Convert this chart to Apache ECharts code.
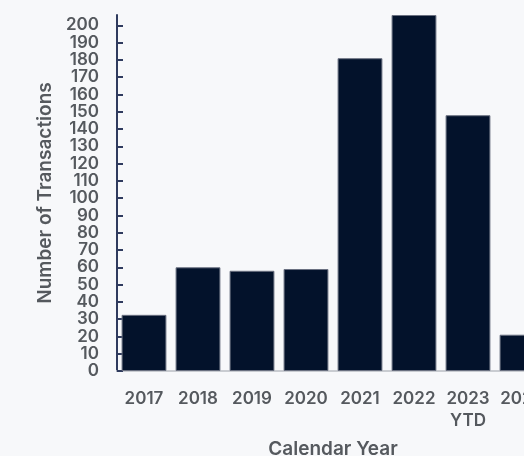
<!DOCTYPE html>
<html>
<head>
<meta charset="utf-8">
<script src="https://cdn.jsdelivr.net/npm/echarts@6/dist/echarts.min.js"></script>
<style>
html,body{margin:0;padding:0;background:#f7f8fa;}
#chart{width:524px;height:456px;}
</style>
</head>
<body>
<div id="chart"></div>
<script>
var categories = ['2017', '2018', '2019', '2020', '2021', '2022', '2023\nYTD', '2024'];
var transactions = [32.5, 60, 58, 59, 181, 206, 148, 21];
var yTickValues = [0,10,20,30,40,50,60,70,80,90,100,110,120,130,140,150,160,170,180,190,200];
var yAxisTitle = 'Number of Transactions';
var xAxisTitle = 'Calendar Year';

var chart = echarts.init(document.getElementById('chart'), null, {renderer: 'canvas'});
var font = 'Inter';
var textColor = '#55595e';
chart.setOption({
  backgroundColor: '#f7f8fa',
  animation: false,
  grid: {left: 117, top: 15, width: 432, bottom: 85, containLabel: false, outerBoundsMode: 'none'},
  xAxis: {
    type: 'category',
    data: categories,
    name: xAxisTitle,
    nameLocation: 'middle',
    nameGap: 69,
    nameTextStyle: {color: textColor, fontSize: 19, fontFamily: font, fontWeight: 600, verticalAlign: 'top'},
    axisLine: {show: true, lineStyle: {color: '#c9ccd1', width: 2}},
    axisTick: {show: false},
    axisLabel: {color: textColor, fontSize: 17, fontFamily: font, fontWeight: 600, margin: 17, lineHeight: 22, interval: 0}
  },
  yAxis: {
    type: 'value',
    min: 0,
    max: 206,
    interval: 10,
    name: yAxisTitle,
    nameLocation: 'middle',
    nameGap: 51,
    nameTextStyle: {color: textColor, fontSize: 19, fontFamily: font, fontWeight: 600},
    splitLine: {show: false},
    axisLine: {show: true, lineStyle: {color: '#2f3b5e', width: 2}},
    axisTick: {show: true, inside: true, length: 6, lineStyle: {color: '#2f3b5e', width: 2}, customValues: yTickValues},
    axisLabel: {color: textColor, fontSize: 17, fontFamily: font, fontWeight: 600, margin: 18, customValues: yTickValues}
  },
  series: [{
    type: 'bar',
    data: transactions,
    barCategoryGap: '17%',
    itemStyle: {color: '#03122b', borderColor: '#6a7080', borderWidth: 1}
  }]
});
</script>
</body>
</html>
